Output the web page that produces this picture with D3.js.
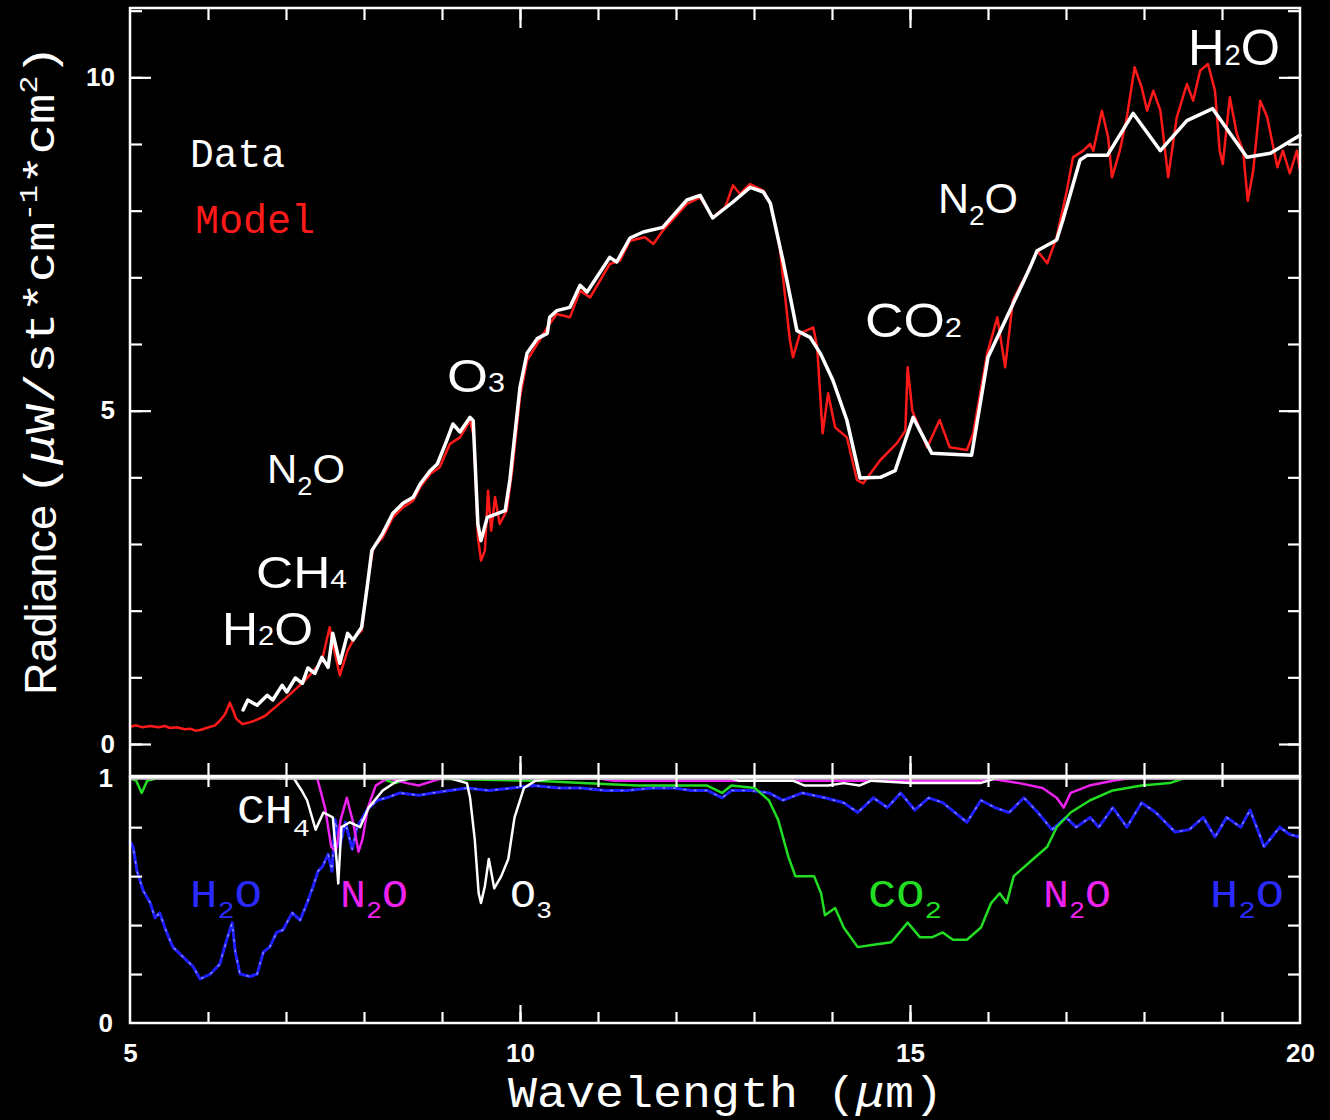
<!DOCTYPE html>
<html><head><meta charset="utf-8">
<script src="https://cdn.jsdelivr.net/npm/d3@7"></script>
<style>html,body{margin:0;padding:0;background:#000;}svg{display:block;}</style>
</head><body>
<svg id="c" width="1330" height="1120"></svg>
<script>
// ---------- data ----------
const modelWl = [5.00,5.08,5.16,5.26,5.36,5.45,5.51,5.60,5.70,5.77,5.84,5.90,5.98,6.09,6.16,6.22,6.28,6.33,6.36,6.44,6.52,6.60,6.73,6.86,6.99,7.12,7.24,7.37,7.46,7.56,7.60,7.69,7.79,7.88,7.97,8.05,8.12,8.24,8.37,8.50,8.63,8.72,8.85,8.97,9.10,9.23,9.36,9.41,9.46,9.50,9.55,9.59,9.63,9.68,9.74,9.83,9.90,10.00,10.09,10.22,10.38,10.47,10.64,10.77,10.90,11.15,11.28,11.41,11.60,11.71,11.83,12.14,12.31,12.47,12.63,12.73,12.82,12.95,13.12,13.21,13.33,13.46,13.50,13.59,13.76,13.81,13.88,13.95,14.04,14.19,14.32,14.40,14.62,14.83,14.94,14.97,15.03,15.22,15.38,15.51,15.73,15.81,15.99,16.12,16.22,16.32,16.50,16.63,16.76,16.88,17.01,17.09,17.22,17.31,17.35,17.46,17.54,17.59,17.69,17.78,17.88,17.97,18.04,18.12,18.21,18.31,18.42,18.55,18.63,18.72,18.82,18.91,18.97,19.01,19.10,19.19,19.27,19.33,19.40,19.49,19.58,19.71,19.78,19.87,19.96,20.00];
const modelVal = [0.26,0.28,0.25,0.27,0.25,0.27,0.24,0.25,0.22,0.23,0.20,0.21,0.24,0.28,0.36,0.45,0.62,0.48,0.38,0.30,0.32,0.35,0.42,0.55,0.68,0.82,0.95,1.12,1.25,1.75,1.50,1.03,1.40,1.60,1.70,2.45,2.95,3.10,3.40,3.55,3.65,3.85,4.05,4.15,4.50,4.60,4.85,4.60,3.10,2.75,2.90,3.80,3.20,3.70,3.30,3.50,4.10,5.20,5.75,6.00,6.30,6.45,6.40,6.80,6.70,7.20,7.25,7.55,7.60,7.50,7.70,8.10,8.20,7.90,8.05,8.38,8.25,8.40,8.30,8.10,7.45,6.06,5.80,6.16,6.25,5.95,4.66,5.26,4.75,4.60,3.96,3.91,4.26,4.51,4.70,5.65,5.00,4.45,4.86,4.45,4.41,4.66,5.86,6.40,5.65,6.66,7.06,7.40,7.21,7.60,8.30,8.80,8.90,9.00,8.90,9.50,9.10,8.50,8.90,9.40,10.15,9.85,9.50,9.80,9.50,8.50,9.40,9.90,9.65,10.10,10.20,9.80,8.90,8.70,9.70,9.15,8.90,8.15,8.60,9.65,9.40,8.65,8.90,8.56,8.90,8.60];

const dataWl = [6.45,6.51,6.63,6.76,6.83,6.95,7.01,7.12,7.21,7.28,7.37,7.46,7.54,7.60,7.69,7.79,7.86,7.97,8.04,8.10,8.24,8.37,8.50,8.63,8.72,8.85,8.94,9.06,9.14,9.23,9.36,9.40,9.46,9.50,9.58,9.81,9.87,10.00,10.09,10.22,10.35,10.38,10.47,10.64,10.77,10.86,11.15,11.24,11.41,11.58,11.83,12.14,12.31,12.47,12.73,12.95,13.12,13.21,13.37,13.50,13.55,13.72,13.85,14.01,14.19,14.36,14.62,14.81,15.04,15.28,15.79,16.00,16.28,16.54,16.63,16.88,16.96,17.18,17.27,17.53,17.86,18.21,18.55,18.88,19.32,19.62,20.00];
const dataVal = [0.51,0.66,0.58,0.73,0.66,0.88,0.78,0.99,0.91,1.14,1.06,1.30,1.15,1.66,1.21,1.66,1.56,1.75,2.35,2.90,3.16,3.46,3.61,3.70,3.90,4.10,4.20,4.55,4.80,4.68,4.90,4.85,3.30,3.05,3.40,3.50,3.96,5.35,5.86,6.08,6.16,6.40,6.50,6.55,6.88,6.78,7.30,7.23,7.59,7.68,7.75,8.16,8.23,7.89,8.13,8.35,8.28,8.11,7.26,6.50,6.20,6.10,5.86,5.46,4.86,3.99,4.00,4.10,4.90,4.36,4.33,5.80,6.50,7.15,7.40,7.56,7.86,8.76,8.83,8.83,9.46,8.90,9.35,9.53,8.80,8.86,9.13];

const h2oWl = [5.00,5.04,5.09,5.17,5.26,5.32,5.38,5.47,5.55,5.68,5.81,5.90,6.03,6.15,6.24,6.31,6.35,6.41,6.54,6.63,6.71,6.79,6.88,6.96,7.08,7.18,7.27,7.35,7.41,7.47,7.54,7.59,7.63,7.69,7.76,7.85,7.91,8.04,8.17,8.29,8.46,8.70,8.88,9.10,9.32,9.60,9.90,10.17,10.50,10.77,11.10,11.37,11.70,11.97,12.20,12.40,12.59,12.71,12.95,13.19,13.37,13.62,13.91,14.15,14.33,14.53,14.71,14.88,15.06,15.24,15.42,15.73,15.91,16.09,16.27,16.46,16.64,16.82,17.00,17.13,17.31,17.42,17.60,17.78,17.97,18.15,18.40,18.58,18.76,18.91,19.06,19.24,19.36,19.54,19.74,19.87,20.00];
const h2oVal = [0.74,0.72,0.62,0.54,0.49,0.43,0.45,0.37,0.31,0.27,0.23,0.18,0.20,0.24,0.34,0.41,0.29,0.20,0.19,0.20,0.29,0.31,0.37,0.38,0.45,0.42,0.49,0.56,0.62,0.64,0.69,0.62,0.83,0.72,0.82,0.71,0.80,0.87,0.91,0.92,0.94,0.93,0.94,0.95,0.96,0.95,0.96,0.97,0.96,0.96,0.95,0.95,0.96,0.96,0.95,0.95,0.92,0.95,0.95,0.94,0.91,0.94,0.92,0.90,0.86,0.92,0.88,0.94,0.87,0.92,0.90,0.82,0.91,0.88,0.86,0.92,0.86,0.79,0.84,0.80,0.84,0.80,0.88,0.80,0.90,0.86,0.78,0.79,0.84,0.76,0.84,0.80,0.87,0.72,0.80,0.77,0.76];

const co2Wl = [5.00,5.08,5.15,5.22,5.35,8.20,8.40,8.60,10.20,10.80,11.50,12.00,12.40,12.59,12.71,13.01,13.19,13.31,13.44,13.53,13.77,13.86,13.91,14.04,14.15,14.33,14.53,14.76,14.97,15.13,15.28,15.42,15.55,15.73,15.91,16.04,16.15,16.24,16.33,16.58,16.76,16.88,17.06,17.31,17.60,17.97,18.33,18.51,20.00];
const co2Val = [1.0,0.99,0.94,0.99,1.0,1.0,0.98,1.0,0.99,0.98,0.97,0.97,0.97,0.94,0.97,0.96,0.91,0.83,0.68,0.60,0.60,0.53,0.44,0.47,0.39,0.31,0.32,0.33,0.41,0.35,0.35,0.37,0.34,0.34,0.39,0.49,0.53,0.49,0.60,0.67,0.72,0.80,0.86,0.91,0.95,0.97,0.98,1.0,1.0];

const n2oWl = [5.0,7.40,7.50,7.58,7.64,7.70,7.78,7.86,7.93,7.98,8.05,8.15,8.30,8.55,8.70,8.90,9.0,11.0,11.2,15.9,16.0,16.4,16.7,16.88,16.97,17.06,17.3,17.6,17.8,20.0];
const n2oVal = [1.0,1.0,0.88,0.72,0.70,0.83,0.92,0.82,0.70,0.75,0.88,0.97,1.0,0.98,0.97,0.99,1.0,1.0,0.99,0.99,1.0,0.98,0.96,0.92,0.88,0.94,0.97,0.99,1.0,1.0];

const ch4Wl = [6.90,7.10,7.20,7.27,7.38,7.48,7.60,7.65,7.67,7.71,7.82,7.95,8.06,8.24,8.43,8.60];
const ch4Val = [1.0,1.0,0.95,0.91,0.79,0.86,0.84,0.66,0.57,0.80,0.82,0.80,0.88,0.95,0.99,1.0];

const o3Wl = [9.10,9.32,9.36,9.42,9.47,9.50,9.55,9.60,9.67,9.76,9.85,9.93,10.05,10.20,10.40,12.70,12.80,13.50,13.65,13.95,14.15,14.35,14.50,15.00,15.90,16.10];
const o3Val = [1.0,0.98,0.92,0.75,0.53,0.49,0.56,0.67,0.55,0.60,0.67,0.84,0.96,0.99,1.0,1.0,0.99,0.99,0.97,0.97,0.98,0.97,0.99,0.98,0.98,1.0];

const xTickLabels = [5,10,15,20];
const xMinorTicks = d3.range(6,20);
const yTopLabels = [0,5,10];
const yTopMinor = d3.range(0,12);
const yBotLabels = [0,1];
const yBotMinor = [0.2,0.4,0.6,0.8];

// ---------- drawing ----------
const svg = d3.select('#c');
svg.append('rect').attr('width',1330).attr('height',1120).attr('fill','#000');

const x = d3.scaleLinear().domain([5,20]).range([130,1300]);
const yT = d3.scaleLinear().domain([-0.48,11.04]).range([776,8]);
const yB = d3.scaleLinear().domain([0,1.005]).range([1023,777]);

function pts(wl, val){ return d3.zip(wl, val); }
function drawLine(wl, val, ys, color, width, extra){
  const l = d3.line().x(d=>x(d[0])).y(d=>ys(d[1]));
  const p = svg.append('path').datum(pts(wl,val)).attr('d',l)
    .attr('fill','none').attr('stroke',color).attr('stroke-width',width)
    .attr('stroke-linejoin','round').attr('stroke-linecap','round');
  if(extra) extra(p);
  return p;
}

// top panel curves
drawLine(modelWl, modelVal, yT, '#ff1a1a', 2.5);
drawLine(dataWl, dataVal, yT, '#ffffff', 3.5);

// bottom panel
drawLine(h2oWl, h2oVal, yB, '#1f1fff', 3);
drawLine(h2oWl, h2oVal, yB, '#8f8fff', 1.4, p=>p.attr('stroke-dasharray','1.5,9'));
drawLine(co2Wl, co2Val, yB, '#22dd22', 2.5);
drawLine(n2oWl, n2oVal, yB, '#ee22ee', 2.5);
drawLine(ch4Wl, ch4Val, yB, '#ffffff', 2.5);
drawLine(o3Wl, o3Val, yB, '#ffffff', 2.5);
svg.append('line').attr('x1',x(5)).attr('x2',x(20)).attr('y1',yB(1)).attr('y2',yB(1))
  .attr('stroke','#c4c4c4').attr('stroke-width',3);

// frames
svg.append('rect').attr('x',x(5)).attr('y',yT(11.04)).attr('width',x(20)-x(5)).attr('height',yT(-0.48)-yT(11.04))
  .attr('fill','none').attr('stroke','#fff').attr('stroke-width',2.5);
svg.append('rect').attr('x',x(5)).attr('y',yB(1.005)).attr('width',x(20)-x(5)).attr('height',yB(0)-yB(1.005))
  .attr('fill','none').attr('stroke','#fff').attr('stroke-width',2.5);

function ticks(axisFn, scale, vals, size, tr){
  const g = svg.append('g').attr('transform',tr)
    .call(axisFn(scale).tickValues(vals).tickSize(size).tickFormat(''));
  g.select('.domain').remove();
  g.selectAll('line').attr('stroke','#fff').attr('stroke-width',2.2);
}
// top panel ticks
ticks(d3.axisRight, yT, yTopMinor, 12, `translate(${x(5)},0)`);
ticks(d3.axisRight, yT, yTopLabels, 21, `translate(${x(5)},0)`);
ticks(d3.axisLeft, yT, yTopMinor, 12, `translate(${x(20)},0)`);
ticks(d3.axisLeft, yT, yTopLabels, 21, `translate(${x(20)},0)`);
ticks(d3.axisBottom, x, xMinorTicks, 12, `translate(0,${yT(11.04)})`);
ticks(d3.axisBottom, x, [10,15], 20, `translate(0,${yT(11.04)})`);
ticks(d3.axisTop, x, xMinorTicks, 13, `translate(0,${yT(-0.48)})`);
ticks(d3.axisTop, x, [10,15], 20, `translate(0,${yT(-0.48)})`);
// bottom panel ticks
ticks(d3.axisRight, yB, yBotMinor, 12, `translate(${x(5)},0)`);
ticks(d3.axisLeft, yB, yBotMinor, 12, `translate(${x(20)},0)`);
ticks(d3.axisBottom, x, xMinorTicks, 10, `translate(0,${yB(1.005)})`);
ticks(d3.axisTop, x, xMinorTicks, 11, `translate(0,${yB(0)})`);
ticks(d3.axisTop, x, [10,15], 18, `translate(0,${yB(0)})`);

function styleLabels(g){
  g.select('.domain').remove();
  g.selectAll('text').attr('fill','#fff').attr('font-family','Liberation Sans, Arial, sans-serif')
    .attr('font-weight','bold').attr('font-size',26);
}
styleLabels(svg.append('g').attr('transform',`translate(${x(5)},0)`)
  .call(d3.axisLeft(yT).tickValues(yTopLabels).tickSize(0).tickPadding(15).tickFormat(d3.format('d'))));
styleLabels(svg.append('g').attr('transform',`translate(${x(5)},0)`)
  .call(d3.axisLeft(yB).tickValues(yBotLabels).tickSize(0).tickPadding(17).tickFormat(d3.format('d'))));
styleLabels(svg.append('g').attr('transform',`translate(0,${yB(0)})`)
  .call(d3.axisBottom(x).tickValues(xTickLabels).tickSize(0).tickPadding(21).tickFormat(d3.format('d'))));

// labels with subscripts
const SANS = 'Liberation Sans, Arial, Helvetica, sans-serif';
const MONO = 'Liberation Mono, Courier New, monospace';
function label(parts, x0, y0, fs, color, family, width, opts){
  opts = opts || {};
  const t = svg.append('text').attr('x',x0).attr('y',y0).attr('fill',color)
    .attr('font-family',family).attr('font-size',fs);
  if(opts.weight) t.attr('font-weight',opts.weight);
  if(width) t.attr('textLength',width).attr('lengthAdjust','spacingAndGlyphs');
  let shift = 0;
  parts.forEach(p=>{
    const [txt, kind] = p;
    const sp = t.append('tspan').text(txt);
    let target = 0, size = fs;
    if(kind==='sub'){ size = fs*(opts.subScale||0.58); target = opts.subDrop||0; }
    if(kind==='sup'){ size = fs*0.6; target = -fs*0.4; }
    if(kind==='it'){ sp.attr('font-style','italic'); }
    sp.attr('font-size',size);
    if(target!==shift){ sp.attr('dy', target-shift); shift = target; }
  });
  return t;
}

// legend
label([['Data','n']], 190, 167, 40, '#ffffff', MONO, 95);
label([['Model','n']], 195, 233, 40, '#ff1a1a', MONO, 120);

// top annotations
label([['H','n'],['2','sub'],['O','n']], 1188, 65, 50, '#fff', SANS, 92);
label([['N','n'],['2','sub'],['O','n']], 938, 213, 42, '#fff', SANS, 80, {subScale:0.65, subDrop:12});
label([['CO','n'],['2','sub']], 865, 337, 48, '#fff', SANS, 97);
label([['O','n'],['3','sub']], 447, 392, 47, '#fff', SANS, 58);
label([['N','n'],['2','sub'],['O','n']], 267, 483, 40, '#fff', SANS, 78, {subScale:0.65, subDrop:12});
label([['CH','n'],['4','sub']], 256, 588, 45, '#fff', SANS, 91);
label([['H','n'],['2','sub'],['O','n']], 222, 645, 47, '#fff', SANS, 91);

// bottom annotations
const bopt = {subScale:0.62, subDrop:11};
label([['CH','n'],['4','sub']], 237, 823, 40, '#fff', MONO, 73, {subScale:0.62, subDrop:13});
label([['H','n'],['2','sub'],['O','n']], 190, 907, 38, '#2a2aff', MONO, 72, bopt);
label([['N','n'],['2','sub'],['O','n']], 340, 907, 38, '#ee22ee', MONO, 68, bopt);
label([['O','n'],['3','sub']], 510, 907, 38, '#fff', MONO, 42, bopt);
label([['CO','n'],['2','sub']], 868, 907, 38, '#22dd22', MONO, 74, bopt);
label([['N','n'],['2','sub'],['O','n']], 1043, 907, 38, '#ee22ee', MONO, 68, bopt);
label([['H','n'],['2','sub'],['O','n']], 1210, 907, 38, '#2a2aff', MONO, 74, bopt);

// axis titles
label([['Wavelength (','n'],['μ','it'],['m)','n']], 508, 1107, 44, '#fff', MONO, 435);
const yt1 = label([['Radiance','n']], 0, 0, 44, '#fff', SANS, 190);
yt1.attr('transform','translate(56,695) rotate(-90)');
const yt2 = label([['(','n'],['μ','it'],['W/st*cm','n'],['-1','sup'],['*cm','n'],['2','sup'],[')','n']], 0, 0, 42, '#fff', MONO, 450);
yt2.attr('transform','translate(54,495) rotate(-90)');
</script>
</body></html>
